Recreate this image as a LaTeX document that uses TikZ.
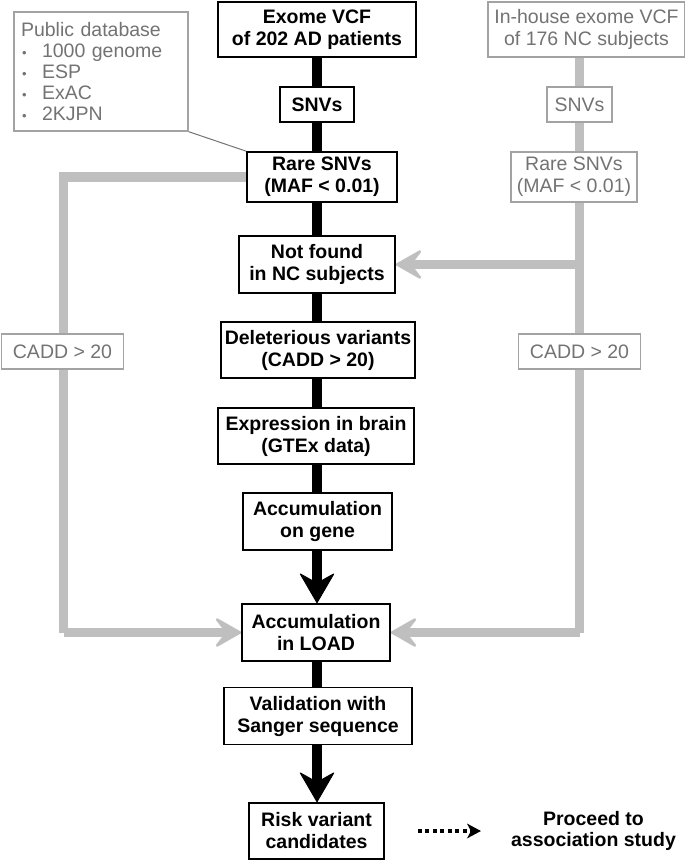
\documentclass[tikz,border=0pt]{standalone}
\usepackage{fontspec}
\setmainfont{Liberation Sans}
\usetikzlibrary{arrows.meta,backgrounds,calc}
\definecolor{bargray}{HTML}{BFBFBF}
\definecolor{boxgray}{HTML}{A3A3A3}
\definecolor{txtgray}{HTML}{737373}
\begin{document}
\begin{tikzpicture}[x=1pt,y=-1pt,
  bbox/.style={draw=black, line width=1.6pt, fill=white, align=center,
    font=\fontsize{19.5}{22}\selectfont\bfseries, inner sep=0pt},
  gbox/.style={draw=boxgray, line width=1.4pt, fill=white, align=center,
    text=txtgray, font=\fontsize{19.5}{22}\selectfont, inner sep=0pt},
  blk/.style={line width=9.5pt, draw=black},
  gry/.style={line width=9.5pt, draw=bargray, line join=miter},
  bigarrow/.style={-{Stealth[round, length=31pt, width=36pt, inset=10pt, line width=1pt]}},
  grayarrow/.style={-{Stealth[round, length=30pt, width=34pt, inset=13pt, line width=2.5pt]}},
  callout/.style={draw=txtgray, line width=1pt}
]
\useasboundingbox (0,0) rectangle (685,862);

% main column
\node[bbox, minimum width=198pt, minimum height=55pt] (exome) at (317,29.5) {Exome VCF\\of 202 AD patients};
\node[bbox, minimum width=74pt, minimum height=35pt] (snv) at (317,104.5) {SNVs};
\node[bbox, minimum width=150pt, minimum height=50pt] (rare) at (322,177) {Rare SNVs\\(MAF < 0.01)};
\node[bbox, minimum width=156pt, minimum height=57pt] (notfound) at (317,264.5) {Not found\\in NC subjects};
\node[bbox, minimum width=194pt, minimum height=56pt] (delet) at (318,350) {Deleterious variants\\(CADD > 20)};
\node[bbox, minimum width=196pt, minimum height=56pt] (expr) at (316,436) {Expression in brain\\(GTEx data)};
\node[bbox, minimum width=149pt, minimum height=57pt] (accgene) at (317.5,521.5) {Accumulation\\on gene};
\node[bbox, minimum width=148pt, minimum height=57pt] (load) at (316,632.5) {Accumulation\\in LOAD};
\node[bbox, minimum width=188pt, minimum height=57pt] (valid) at (318,716) {Validation with\\Sanger sequence};
\node[bbox, minimum width=135pt, minimum height=56pt] (risk) at (316.5,831) {Risk variant\\candidates};

% right column
\node[gbox, minimum width=197pt, minimum height=55pt] (inhouse) at (586.5,29.5) {In-house exome VCF\\of 176 NC subjects};
\node[gbox, minimum width=65pt, minimum height=35pt] (gsnv) at (579.5,104.5) {SNVs};
\node[gbox, minimum width=126pt, minimum height=50pt] (grare) at (574,177) {Rare SNVs\\(MAF < 0.01)};
\node[gbox, minimum width=122pt, minimum height=35pt] (gcaddr) at (579.5,351.5) {CADD > 20};

% left
\node[gbox, minimum width=122pt, minimum height=35pt] (gcaddl) at (62.5,351.5) {CADD > 20};
\node[draw=boxgray, line width=1.4pt, fill=white, text=txtgray, align=left,
  font=\fontsize{19.5}{21}\selectfont, inner sep=0pt, minimum width=174pt, minimum height=119pt,
  text width=160pt] (pub) at (101,71.5)
  {Public database\\
   \makebox[21pt][l]{\hspace{1pt}\fontsize{13}{13}\selectfont •}1000 genome\\
   \makebox[21pt][l]{\hspace{1pt}\fontsize{13}{13}\selectfont •}ESP\\
   \makebox[21pt][l]{\hspace{1pt}\fontsize{13}{13}\selectfont •}ExAC\\
   \makebox[21pt][l]{\hspace{1pt}\fontsize{13}{13}\selectfont •}2KJPN};

\node[font=\fontsize{19.5}{21}\selectfont\bfseries, align=center, inner sep=0pt] (proceed) at (593.5,831) {Proceed to\\association study};

\coordinate (rtop) at (579.5,57);
\coordinate (rbot) at (579.5,632.5);
\coordinate (rmid) at (579.5,264.5);
\coordinate (ltop) at (63.5,177);
\coordinate (lbot) at (63.5,632.5);
\coordinate (dstart) at ($(risk.east)+(33,0)$);

\begin{scope}[on background layer]
  \draw[gry] (inhouse.south -| rtop) -- (rbot);
  \draw[gry, grayarrow] (rbot) -- (load.east);
  \draw[gry, grayarrow] (rmid) -- (notfound.east);
  \draw[gry] (rare.west) -- (ltop) -- (lbot);
  \draw[gry, grayarrow] (lbot) -- (load.west);
  \draw[blk] (exome.south) -- (snv.north);
  \draw[blk] (snv.south) -- (rare.south -| snv.south);
  \draw[blk] (rare.south -| snv.south) -- (notfound.north);
  \draw[blk] (notfound.south) -- (delet.north -| notfound.south);
  \draw[blk] (delet.south -| notfound.south) -- (expr.north -| notfound.south);
  \draw[blk] (expr.south -| notfound.south) -- (accgene.north -| notfound.south);
  \draw[blk] (load.south -| notfound.south) -- (valid.north -| notfound.south);
\end{scope}
\draw[blk, bigarrow] (accgene.south -| notfound.south) -- (load.north -| notfound.south);
\draw[blk, bigarrow] (valid.south -| notfound.south) -- (risk.north -| notfound.south);
\draw[callout] (pub.south east) -- (rare.north west);
\draw[line width=4pt, dash pattern=on 4pt off 3.5pt, -{Stealth[length=14pt, width=15pt, inset=4pt, line width=0pt]}]
  (dstart) -- ($(proceed.west)+(-30,0)$);
\end{tikzpicture}
\end{document}
